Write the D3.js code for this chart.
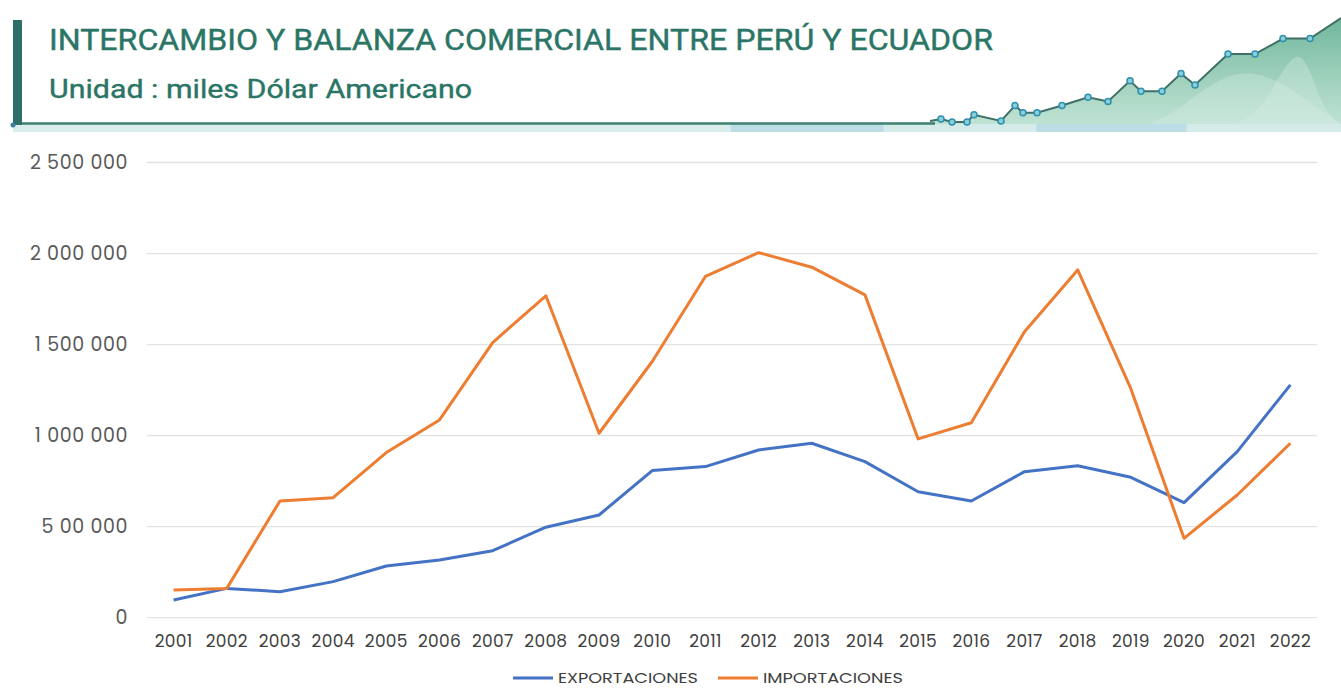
<!DOCTYPE html>
<html lang="es">
<head>
<meta charset="utf-8">
<title>Intercambio Perú - Ecuador</title>
<script src="https://d3js.org/d3.v7.min.js"></script>
<style>
    body { margin: 0; background: #fff; }
    .tick text { font-family: "Poppins", "Lato", "Noto Sans", sans-serif; }
    .yaxis .tick text { fill: #595959; font-size: 19px; letter-spacing: 0.6px; }
    .xaxis .tick text { fill: #404040; font-size: 17px; letter-spacing: 0.3px; }
    .grid line { stroke: #e3e3e3; stroke-width: 1.3; }
    path.serie { fill: none; stroke-width: 3; stroke-linejoin: round; }
</style>
</head>
<body>
<div id="chart"></div>
<script>

// datos (miles USD)
const years = ["2001","2002","2003","2004","2005","2006","2007","2008","2009","2010","2011",
               "2012","2013","2014","2015","2016","2017","2018","2019","2020","2021","2022"];
const exportaciones = [97000, 161000, 143000, 198000, 284000, 317000, 368000, 497000, 564000, 808000, 830000,
                       921000, 958000, 857000, 692000, 641000, 802000, 835000, 771000, 632000, 912000, 1279000];
const importaciones = [152000, 161000, 641000, 659000, 907000, 1086000, 1511000, 1768000, 1013000, 1407000, 1874000,
                       2005000, 1925000, 1773000, 982000, 1071000, 1571000, 1910000, 1258000, 436000, 674000, 958000];
const yTicks = [0, 500000, 1000000, 1500000, 2000000, 2500000];
const yTickLabels = ["0", "5 00 000", "1 000 000", "1 500 000", "2 000 000", "2 500 000"];
const seriesNames = ["EXPORTACIONES", "IMPORTACIONES"];
const seriesColors = ["#4472C4", "#ED7D31"];

// decoración del encabezado (mini gráfico)
const decoValues = [0, 0.2, -0.1, -0.1, 0.6, 0, 1.5, 0.8, 0.8, 1.5, 2.3, 1.9, 3.9, 2.9, 2.9, 4.6, 3.5,
                    6.5, 6.5, 8.0, 8.0, 10.0];
const decoIdx = [0, 1, 2, 3, 4, 5, 6, 7, 8, 9, 10, 11, 12, 13, 14, 15, 16, 17, 18, 19, 20, 21];
const decoX = [930, 941, 952, 967, 974, 1001, 1015, 1023, 1037, 1062, 1088, 1108, 1130, 1141, 1162, 1181, 1195,
               1228, 1255, 1283, 1310, 1341];

const W = 1341, H = 688;
const svg = d3.select("#chart").append("svg")
    .attr("width", W).attr("height", H);

// ---------- encabezado ----------
const defs = svg.append("defs");
const grad = defs.append("linearGradient").attr("id", "gArea")
    .attr("x1", 0).attr("x2", 0).attr("y1", 0).attr("y2", 1);
grad.append("stop").attr("offset", "0%").attr("stop-color", "#5fae90").attr("stop-opacity", 0.9);
grad.append("stop").attr("offset", "100%").attr("stop-color", "#a9d8c4").attr("stop-opacity", 0.75);

const band = defs.append("linearGradient").attr("id", "gBand")
    .attr("x1", 0).attr("x2", 1);
[["0%", "#d9eeec"], ["54%", "#d9eeec"], ["54.1%", "#bcdde6"], ["65.5%", "#bcdde6"], ["65.6%", "#d4ebe9"],
 ["77%", "#d4ebe9"], ["77.1%", "#bcdde6"], ["88.3%", "#bcdde6"], ["88.4%", "#d4ebe9"], ["100%", "#d4ebe9"]]
    .forEach(s => band.append("stop").attr("offset", s[0]).attr("stop-color", s[1]));

svg.append("rect").attr("x", 13).attr("y", 124).attr("width", W - 13).attr("height", 8)
    .attr("fill", "url(#gBand)");

const dx = d3.scaleLinear().domain([0, 21]).range([0, 21]);
const dy = d3.scaleLinear().domain([0, 10]).range([121, 18]);
const decoPts = decoIdx.map(i => ({x: decoX[dx(i)], v: decoValues[i]}));

const decoArea = d3.area().x(d => d.x).y0(124).y1(d => dy(d.v));
svg.append("path").datum(decoPts).attr("d", decoArea).attr("fill", "url(#gArea)");

// ondas claras dentro del área
const waves = [[1150, 1245, 1340], [1235, 1300, 1341]];
waves.forEach((w, k) => {
    const wv = d3.area().curve(d3.curveBasis).x(d => d[0]).y0(124).y1(d => d[1]);
    svg.append("path")
        .datum([[w[0], 124], [w[0] + 30, 110], [w[1], k ? 30 : 55], [w[2] - 20, 110], [w[2], 124]])
        .attr("d", wv).attr("fill", "#d8efe6").attr("opacity", 0.35);
});

svg.append("line").attr("x1", 13).attr("x2", 935).attr("y1", 123.5).attr("y2", 123.5)
    .attr("stroke", "#3d7f6f").attr("stroke-width", 2.5);
svg.append("path").datum(decoPts)
    .attr("d", d3.line().x(d => d.x).y(d => dy(d.v)))
    .attr("fill", "none").attr("stroke", "#3f6f67").attr("stroke-width", 2);
svg.selectAll("circle.deco").data(decoPts.slice(1, 21)).join("circle")
    .attr("class", "deco")
    .attr("cx", d => d.x).attr("cy", d => dy(d.v)).attr("r", 3)
    .attr("fill", "#8ad0d8").attr("stroke", "#2f8fae").attr("stroke-width", 1.5);

svg.append("rect").attr("x", 13).attr("y", 20).attr("width", 9).attr("height", 105)
    .attr("fill", "#2c6e68");
svg.append("circle").attr("cx", 13).attr("cy", 125).attr("r", 2.5).attr("fill", "#3a7fa0");

svg.append("text").attr("x", 49).attr("y", 50)
    .attr("font-family", "Roboto, sans-serif").attr("font-size", 29)
    .attr("fill", "#2a7566").attr("stroke", "#2a7566").attr("stroke-width", 0.4)
    .attr("textLength", 944).attr("lengthAdjust", "spacingAndGlyphs")
    .text("INTERCAMBIO  Y BALANZA COMERCIAL ENTRE PERÚ Y ECUADOR");
svg.append("text").attr("x", 49).attr("y", 98)
    .attr("font-family", "Roboto, sans-serif").attr("font-size", 26)
    .attr("fill", "#2a7566").attr("stroke", "#2a7566").attr("stroke-width", 0.4)
    .attr("textLength", 423).attr("lengthAdjust", "spacingAndGlyphs")
    .text("Unidad : miles Dólar Americano");

// ---------- gráfico ----------
const x = d3.scaleBand().domain(years).range([147, 1317]);
const y = d3.scaleLinear().domain([0, 2500000]).range([617.7, 162.5]);

svg.append("g").attr("class", "grid")
    .selectAll("line").data(yTicks).join("line")
    .attr("x1", 147).attr("x2", 1317)
    .attr("y1", d => y(d)).attr("y2", d => y(d));

svg.append("g").attr("class", "yaxis")
    .attr("transform", "translate(131,0)")
    .call(d3.axisLeft(y).tickValues(yTicks).tickSize(0)
        .tickFormat((d, i) => yTickLabels[i]))
    .call(g => g.select(".domain").remove());

svg.append("g").attr("class", "xaxis")
    .attr("transform", "translate(0,629)")
    .call(d3.axisBottom(x).tickSize(0))
    .call(g => g.select(".domain").remove())
    .selectAll("text").attr("dy", "0.9em");

const line = d3.line().x((d, i) => x(years[i]) + x.bandwidth() / 2).y(d => y(d));
[exportaciones, importaciones].forEach((s, k) => {
    svg.append("path").datum(s).attr("class", "serie")
        .attr("stroke", seriesColors[k]).attr("d", line);
});

// leyenda
const legX = [513, 718];
seriesNames.forEach((n, k) => {
    const g = svg.append("g").attr("transform", "translate(" + legX[k] + ",678)");
    g.append("line").attr("x1", 0).attr("x2", 40).attr("stroke", seriesColors[k]).attr("stroke-width", 3);
    g.append("text").attr("x", 45).attr("dy", "0.35em")
        .attr("font-family", "Poppins, Lato, 'Noto Sans', sans-serif").attr("font-size", 14.5)
        .attr("fill", "#404040").attr("textLength", 140).attr("lengthAdjust", "spacingAndGlyphs")
        .text(n);
});

</script>
</body>
</html>
